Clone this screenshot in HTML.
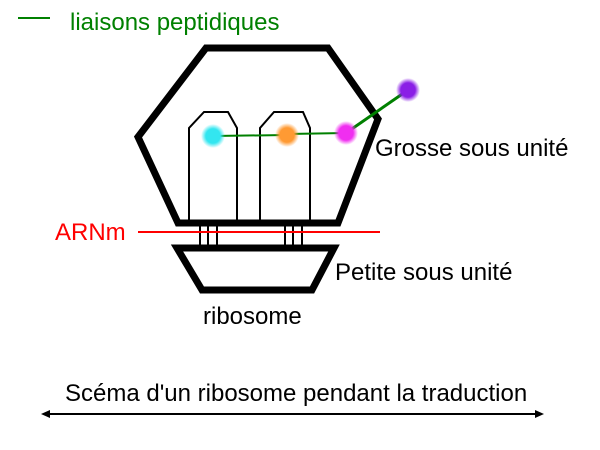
<!DOCTYPE html>
<html><head><meta charset="utf-8"><style>
html,body{margin:0;padding:0;background:#fff;}
svg{display:block;}
text{font-family:"Liberation Sans",Arial,sans-serif;}
</style></head><body>
<svg width="600" height="450" viewBox="0 0 600 450" xmlns="http://www.w3.org/2000/svg">
<defs>
<radialGradient id="gc"><stop offset="0.6" stop-color="#33e6f0"/><stop offset="1" stop-color="#33e6f0" stop-opacity="0"/></radialGradient>
<radialGradient id="go"><stop offset="0.6" stop-color="#ff9a33"/><stop offset="1" stop-color="#ff9a33" stop-opacity="0"/></radialGradient>
<radialGradient id="gm"><stop offset="0.6" stop-color="#f02ef0"/><stop offset="1" stop-color="#f02ef0" stop-opacity="0"/></radialGradient>
<radialGradient id="gp"><stop offset="0.6" stop-color="#8a1ee6"/><stop offset="1" stop-color="#8a1ee6" stop-opacity="0"/></radialGradient>
</defs>
<line x1="18" y1="18" x2="50" y2="18" stroke="#008000" stroke-width="2"/>
<text x="70" y="30" font-size="24" fill="#008000">liaisons peptidiques</text>
<polygon points="206,48 328,48 378,119 338,223 178,223 138,137" fill="none" stroke="#000" stroke-width="7" stroke-linejoin="miter"/>
<polyline points="189,223 189,128 204,112 228,112 237,128 237,223" fill="none" stroke="#000" stroke-width="2"/>
<polyline points="260,223 260,128 274,112 303,112 310,128 310,223" fill="none" stroke="#000" stroke-width="2"/>
<g stroke="#000" stroke-width="2">
<line x1="200" y1="223" x2="200" y2="245"/><line x1="208" y1="223" x2="208" y2="245"/><line x1="217" y1="223" x2="217" y2="245"/>
<line x1="285" y1="223" x2="285" y2="245"/><line x1="293" y1="223" x2="293" y2="245"/><line x1="302" y1="223" x2="302" y2="245"/>
</g>
<line x1="138" y1="232" x2="380" y2="232" stroke="#ff0000" stroke-width="2"/>
<polygon points="177,248 334,248 312,290 202,290" fill="none" stroke="#000" stroke-width="7"/>
<line x1="213" y1="136" x2="287" y2="135" stroke="#008000" stroke-width="2"/>
<line x1="287" y1="134" x2="346" y2="133" stroke="#008000" stroke-width="2"/>
<line x1="346" y1="133" x2="408" y2="90" stroke="#008000" stroke-width="3"/>
<circle cx="213" cy="136" r="12" fill="url(#gc)"/>
<circle cx="287" cy="135" r="12" fill="url(#go)"/>
<circle cx="346" cy="133" r="12" fill="url(#gm)"/>
<circle cx="408" cy="90" r="12" fill="url(#gp)"/>
<text x="375" y="156" font-size="24" fill="#000">Grosse sous unité</text>
<text x="55" y="240" font-size="24" fill="#ff0000">ARNm</text>
<text x="335" y="280" font-size="24" fill="#000">Petite sous unité</text>
<text x="203" y="324" font-size="24" fill="#000">ribosome</text>
<text x="65" y="401" font-size="24" fill="#000">Scéma d'un ribosome pendant la traduction</text>
<line x1="46" y1="414" x2="538" y2="414" stroke="#000" stroke-width="2"/>
<polygon points="41,414 50,410 50,418" fill="#000"/>
<polygon points="544,414 535,410 535,418" fill="#000"/>
</svg>
</body></html>
